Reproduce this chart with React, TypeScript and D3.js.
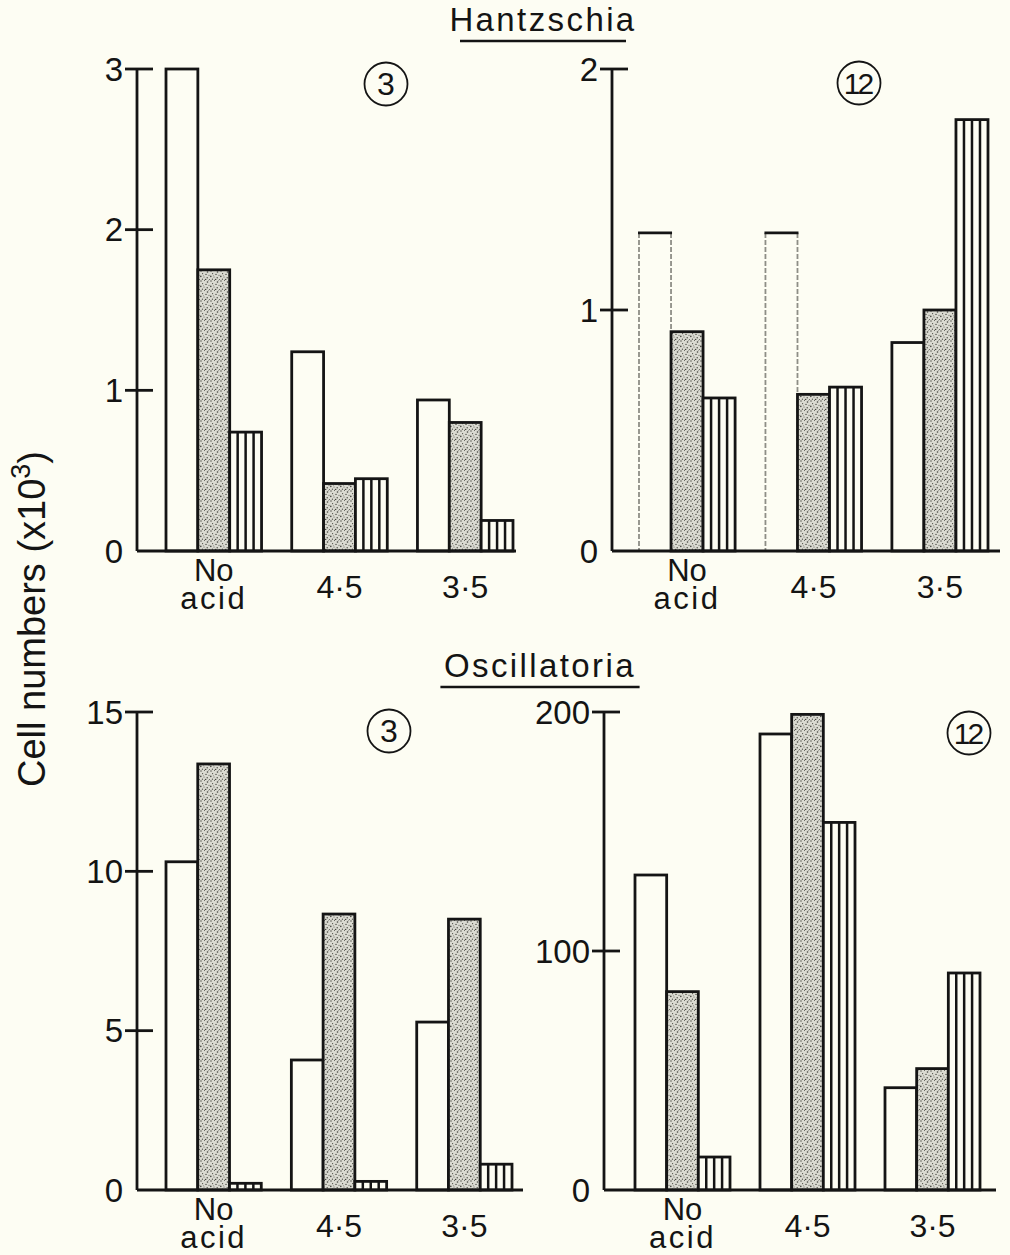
import React from "react";
import * as d3 from "d3";

// acid treatments along the x axis
const groups = ["No acid", "4·5", "3·5"];
// bar kinds inside each group: open, stippled, vertical stripes
const kinds = ["open", "stippled", "striped"];

// cell numbers (x10^3), rows follow `groups`, columns follow `kinds`
const hantzschia3 = [
  [3.0, 1.75, 0.74],
  [1.24, 0.42, 0.45],
  [0.94, 0.8, 0.19],
];
const hantzschia12 = [
  [1.32, 0.91, 0.635],
  [1.32, 0.65, 0.68],
  [0.865, 1.0, 1.79],
];
const oscillatoria3 = [
  [10.3, 13.37, 0.21],
  [4.08, 8.66, 0.27],
  [5.27, 8.5, 0.81],
];
const oscillatoria12 = [
  [131.8, 83, 13.8],
  [190.8, 199, 153.8],
  [42.8, 50.8, 90.8],
];

const hantzschia3Ticks = [0, 1, 2, 3];
const hantzschia12Ticks = [0, 1, 2];
const oscillatoria3Ticks = [0, 5, 10, 15];
const oscillatoria12Ticks = [0, 100, 200];

const PAPER = "#fdfdf3";
const INK = "#141414";
const FONT = "'Liberation Sans', Arial, Helvetica, sans-serif";

// fixed speckle layout for the stipple texture
const speckles = [
  [1, 1, 0.7], [4.5, 0.6, 0.5], [7.5, 2, 0.8], [2.6, 3.6, 0.6], [6, 4.4, 0.7],
  [9, 5.2, 0.5], [0.8, 6.4, 0.8], [4, 7, 0.5], [7.2, 7.8, 0.7], [2.4, 9.2, 0.6],
  [5.6, 9.6, 0.8], [9.4, 9.4, 0.5], [3.3, 5.3, 0.4], [8.4, 0.2, 0.4],
];

type PanelProps = {
  data: number[][];
  ticks: number[];
  axisX: number;
  top: number;
  bottom: number;
  barsFrom: number;
  barsTo: number;
  baseEnd: number;
  badge: string;
  badgeX: number;
  badgeY: number;
  faintOpen?: number[];
};

const Panel = (p: PanelProps) => {
  const max = p.ticks[p.ticks.length - 1];
  const y = d3.scaleLinear().domain([0, max]).range([p.bottom, p.top]);
  const x = d3
    .scaleBand()
    .domain(groups)
    .range([p.barsFrom, p.barsTo])
    .paddingInner(0.24);
  const xi = d3.scaleBand().domain(kinds).range([0, x.bandwidth()]);
  const bw = xi.bandwidth();

  const bars: React.ReactNode[] = [];
  groups.forEach((g, gi) => {
    kinds.forEach((k, ki) => {
      const v = p.data[gi][ki];
      const bx = (x(g) as number) + (xi(k) as number);
      const by = y(v);
      const h = p.bottom - by;
      const key = `${gi}-${ki}`;
      if (k === "open" && p.faintOpen && p.faintOpen.includes(gi)) {
        // these open bars only show faint, broken sides in the print
        bars.push(
          <g key={key}>
            <rect x={bx} y={by} width={bw} height={h} fill={PAPER} />
            <line x1={bx} x2={bx} y1={by} y2={p.bottom} stroke="#8e8e86" strokeWidth={1.8} strokeDasharray="5 2" />
            <line x1={bx + bw} x2={bx + bw} y1={by} y2={p.bottom} stroke="#8e8e86" strokeWidth={1.8} strokeDasharray="5 2" />
            <line x1={bx - 1} x2={bx + bw + 1} y1={by} y2={by} stroke={INK} strokeWidth={2.8} />
          </g>
        );
        return;
      }
      bars.push(
        <g key={key}>
          <rect
            x={bx}
            y={by}
            width={bw}
            height={h}
            fill={k === "stippled" ? "url(#stipple)" : PAPER}
            stroke={INK}
            strokeWidth={2.8}
          />
          {k === "striped" &&
            [0.25, 0.5, 0.75].map((f) => (
              <line key={f} x1={bx + bw * f} x2={bx + bw * f} y1={by} y2={p.bottom} stroke={INK} strokeWidth={2.5} />
            ))}
        </g>
      );
    });
  });

  return (
    <g>
      {bars}
      {/* axes */}
      <line x1={p.axisX} x2={p.axisX} y1={p.top} y2={p.bottom} stroke={INK} strokeWidth={2.8} />
      <line x1={p.axisX} x2={p.baseEnd} y1={p.bottom} y2={p.bottom} stroke={INK} strokeWidth={2.8} />
      {p.ticks.map((t) => (
        <g key={t}>
          {t > 0 && (
            <line x1={p.axisX - 12} x2={p.axisX + 16} y1={y(t)} y2={y(t)} stroke={INK} strokeWidth={2.8} />
          )}
          <text x={p.axisX - 14} y={y(t) + 11.5} textAnchor="end" fontSize={33} fill={INK}>
            {t}
          </text>
        </g>
      ))}
      {/* group labels */}
      {groups.map((g) => {
        const cx = (x(g) as number) + x.bandwidth() / 2;
        if (g === "No acid") {
          return (
            <text key={g} textAnchor="middle" fontSize={31} fill={INK}>
              <tspan x={cx} y={p.bottom + 30}>No</tspan>
              <tspan x={cx} y={p.bottom + 58} letterSpacing={2.5}>acid</tspan>
            </text>
          );
        }
        return (
          <text key={g} x={cx} y={p.bottom + 47} textAnchor="middle" fontSize={32} fill={INK}>
            {g}
          </text>
        );
      })}
      {/* day badge */}
      <circle cx={p.badgeX} cy={p.badgeY} r={21.5} fill="none" stroke={INK} strokeWidth={1.8} />
      <text
        x={p.badgeX - (p.badge.length > 1 ? 1.5 : 0)}
        y={p.badgeY + 11}
        textAnchor="middle"
        fontSize={p.badge.length > 1 ? 30 : 32}
        letterSpacing={p.badge.length > 1 ? -3 : 0}
        fill={INK}
      >
        {p.badge}
      </text>
    </g>
  );
};

const Title = ({ label, cx, y }: { label: string; cx: number; y: number }) => {
  const w = label.length * 16.6;
  return (
    <g>
      <text x={cx} y={y} textAnchor="middle" fontSize={33} letterSpacing={2.4} fill={INK}>
        {label}
      </text>
      <line x1={cx - w / 2} x2={cx + w / 2} y1={y + 10} y2={y + 10} stroke={INK} strokeWidth={2.4} />
    </g>
  );
};

export default function App() {
  return (
    <svg
      width={1010}
      height={1255}
      style={{ position: "absolute", left: 0, top: 0, fontFamily: FONT }}
    >
      <defs>
        <pattern id="stipple" width={10} height={10} patternUnits="userSpaceOnUse">
          <rect width={10} height={10} fill="#dadad1" />
          {speckles.map(([sx, sy, r], i) => (
            <circle key={i} cx={sx} cy={sy} r={r} fill="#44443e" />
          ))}
        </pattern>
      </defs>
      <rect width={1010} height={1255} fill={PAPER} />

      <Title label="Hantzschia" cx={543} y={31} />
      <Title label="Oscillatoria" cx={540} y={677} />

      <text
        transform="translate(45,619) rotate(-90)"
        textAnchor="middle"
        fontSize={38}
        fill={INK}
      >
        Cell numbers (x10
        <tspan fontSize={27} dy={-15}>3</tspan>
        <tspan dy={15}>)</tspan>
      </text>

      <Panel
        data={hantzschia3}
        ticks={hantzschia3Ticks}
        axisX={137}
        top={69}
        bottom={551}
        barsFrom={166}
        barsTo={513}
        baseEnd={516}
        badge="3"
        badgeX={386}
        badgeY={84}
      />
      <Panel
        data={hantzschia12}
        ticks={hantzschia12Ticks}
        axisX={612}
        top={69}
        bottom={551}
        barsFrom={639}
        barsTo={988}
        baseEnd={1000}
        badge="12"
        badgeX={859}
        badgeY={83}
        faintOpen={[0, 1]}
      />
      <Panel
        data={oscillatoria3}
        ticks={oscillatoria3Ticks}
        axisX={137}
        top={712}
        bottom={1190}
        barsFrom={166}
        barsTo={512}
        baseEnd={523}
        badge="3"
        badgeX={389}
        badgeY={731}
      />
      <Panel
        data={oscillatoria12}
        ticks={oscillatoria12Ticks}
        axisX={604}
        top={712}
        bottom={1190}
        barsFrom={635}
        barsTo={980}
        baseEnd={996}
        badge="12"
        badgeX={969}
        badgeY={733}
      />
    </svg>
  );
}
